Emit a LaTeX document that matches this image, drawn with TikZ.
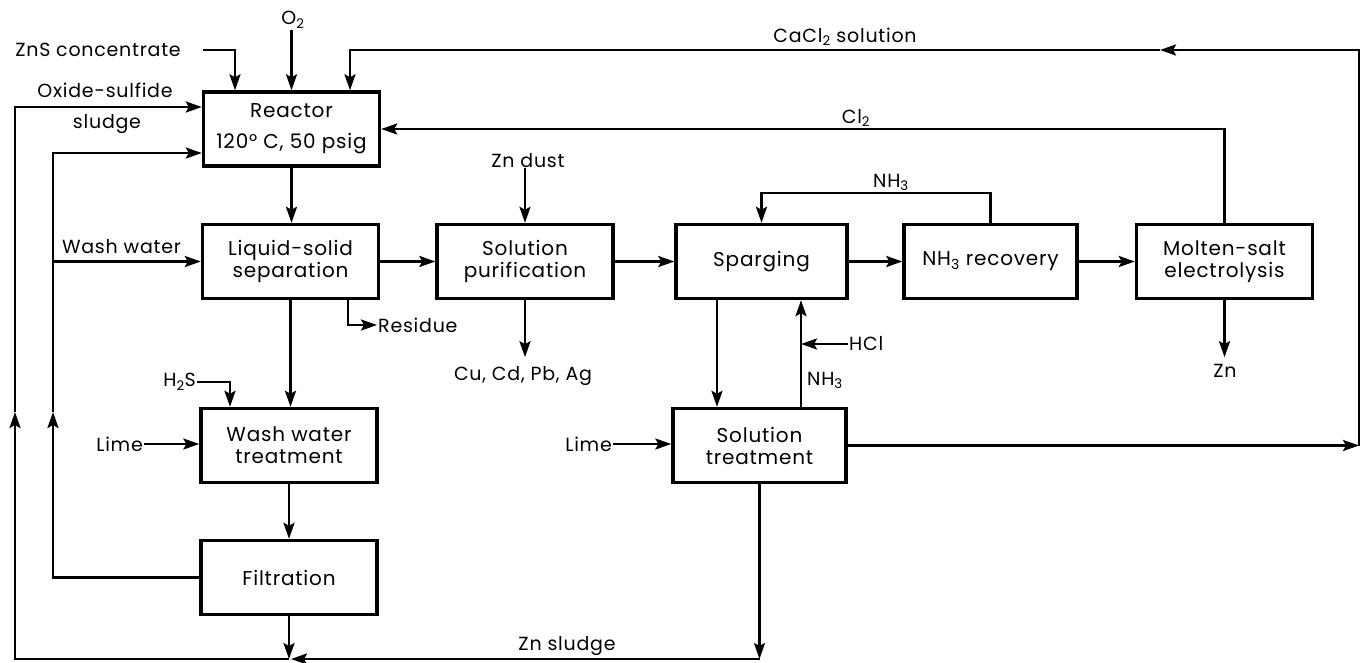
\documentclass[tikz,border=0pt]{standalone}
\usepackage{fontspec}
\setmainfont{Poppins}[LetterSpace=4]
\usetikzlibrary{arrows.meta}
\usetikzlibrary{calc}

\begin{document}
\begin{tikzpicture}[
    x=1pt,
    y=-1pt,
    every node/.style={font=\fontsize{19}{22}\selectfont, inner sep=1pt},
    unit/.style={draw, line width=3.4pt, minimum width=176pt,
        minimum height=74pt, align=center, inner sep=0pt,
        font=\fontsize{20}{22}\selectfont},
    flow/.style={line width=2.6pt, -{Stealth[length=16pt,width=11pt,inset=3pt]}}
]

\useasboundingbox (0,0) rectangle (1366,662);

%------------------------------------------------------------
% Process units
%------------------------------------------------------------

\node[unit] (reactor) at (291.5,129) {Reactor\\[9pt]120° C, 50 psig};

\node[unit] (lss) at (290.5,261.5) {Liquid-solid\\separation};

\node[unit] (purif) at (525,261.5) {Solution\\purification};

\node[unit, minimum width=171pt] (sparg) at (761.5,261.5) {Sparging};

\node[unit, minimum width=173pt] (nhrec) at (990.5,261.5) {NH\textsubscript{3} recovery};

\node[unit] (molten) at (1224.5,261.5) {Molten-salt\\electrolysis};

\node[unit] (wwt) at (289,445.5) {Wash water\\treatment};

\node[unit] (filt) at (289,577.5) {Filtration};

\node[unit, minimum width=173pt] (soltr) at (759.5,445.5) {Solution\\treatment};

%------------------------------------------------------------
% Stream labels
%------------------------------------------------------------

\node (zns) at (98,50) {ZnS concentrate};

\node (otwo) at (293,20) {O\textsubscript{2}};

\node[anchor=base] (cacl) at (845,42) {CaCl\textsubscript{2} solution};

\node[anchor=base] (cltwo) at (856,123) {Cl\textsubscript{2}};

\node[anchor=base] (oxide) at (105,97) {Oxide-sulfide};

\node[anchor=base] (sludge) at (107,128) {sludge};

\node[anchor=base] (washw) at (121.5,253) {Wash water};

\node[anchor=base] (zndust) at (528,167) {Zn dust};

\node[anchor=base] (nhtop) at (891,187) {NH\textsubscript{3}};

\node[anchor=west] (residue) at (377,325) {Residue};

\node[anchor=base] (metals) at (523,380) {Cu, Cd, Pb, Ag};

\node[anchor=base] (zn) at (1225,377) {Zn};

\node[anchor=east] (htwos) at (197,382) {H\textsubscript{2}S};

\node[anchor=east] (limea) at (144,444) {Lime};

\node[anchor=east] (limeb) at (613,444) {Lime};

\node[anchor=west] (hcl) at (848,344) {HCl};

\node[anchor=base west] (nhlow) at (806,385) {NH\textsubscript{3}};

\node[anchor=base] (znsl) at (567,650) {Zn sludge};

%------------------------------------------------------------
% Bend points
%------------------------------------------------------------

\coordinate (znsA) at (203,50);
\coordinate (znsB) at (235,50);
\coordinate (caR) at (1359,50);
\coordinate (caMid) at (1160,50);
\coordinate (caL) at (350,50);
\coordinate (nhY) at (0,193);
\coordinate (resX) at (348,0);
\coordinate (htwosB) at (230,382);
\coordinate (spDown) at (717,0);
\coordinate (spUp) at (801,0);
\coordinate (bot) at (0,659);
\coordinate (outerB) at (15,659);
\coordinate (outerA) at (15,412);
\coordinate (innerA) at (53,412);

%------------------------------------------------------------
% Feeds to the reactor
%------------------------------------------------------------

\draw[flow]
(znsA) -- (znsB) -- (znsB |- reactor.north);

\draw[flow]
(reactor.north |- otwo.south) -- (reactor.north);

% CaCl2 recycle
\draw[flow]
(soltr.east) -- (soltr.east -| caR);

\draw[flow]
(soltr.east -| caR) -- (caR) -- (caMid);

\draw[flow]
(caMid) -- (caL) -- (caL |- reactor.north);

% Cl2 recycle
\draw[flow]
(molten.north) |- (reactor.east);

%------------------------------------------------------------
% Main line
%------------------------------------------------------------

\draw[flow]
(reactor.south) -- (reactor.south |- lss.north);

\draw[flow] (lss) -- (purif);

\draw[flow] (purif) -- (sparg);

\draw[flow] (sparg) -- (nhrec);

\draw[flow] (nhrec) -- (molten);

\draw[flow]
(purif.north |- zndust.south) -- (purif.north);

\draw[flow]
(nhrec.north) -- (nhrec.north |- nhY) -| (sparg.north);

\draw[flow]
(purif.south) -- ++(0,57);

\draw[flow]
(molten.south) -- ++(0,57);

\draw[flow]
(lss.south -| resX) |- (residue.west);

%------------------------------------------------------------
% Wash water side
%------------------------------------------------------------

\draw[flow]
(lss.south) -- (lss.south |- wwt.north);

\draw[flow]
(htwos.east) -- (htwosB) -- (htwosB |- wwt.north);

\draw[flow]
(limea.east) -- (limea.east -| wwt.west);

\draw[flow]
(wwt.south) -- (filt.north);

\draw[flow]
(filt.west) -| (innerA);

\draw[flow]
(innerA) |- ($(reactor.west)+(0,24)$);

\draw[flow]
(innerA |- lss.west) -- (lss.west);

%------------------------------------------------------------
% Solution treatment side
%------------------------------------------------------------

\draw[flow]
(sparg.south -| spDown) -- (soltr.north -| spDown);

\draw[flow]
(soltr.north -| spUp) -- (sparg.south -| spUp);

\draw[flow]
(hcl.west) -- (hcl.west -| spUp);

\draw[flow]
(limeb.east) -- (limeb.east -| soltr.west);

%------------------------------------------------------------
% Zn sludge return
%------------------------------------------------------------

\draw[flow]
(filt.south) -- (filt.south |- bot);

\draw[flow]
(soltr.south) -- (soltr.south |- bot);

\draw[flow]
(soltr.south |- bot) -- ($(filt.south |- bot)+(2,0)$);

\draw[flow]
(filt.south |- bot) -- (outerB) -- (outerA);

\draw[flow]
(outerA) |- ($(reactor.west)+(0,-22)$);

\end{tikzpicture}
\end{document}
